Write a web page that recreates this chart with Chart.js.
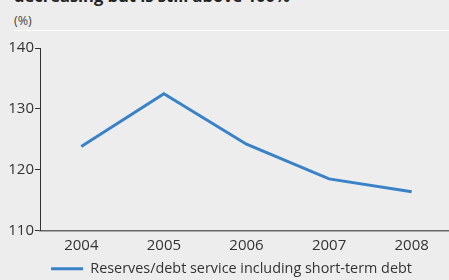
<!DOCTYPE html>
<html lang="en">
<head>
    <meta charset="UTF-8">
    <title>Reserves/debt service</title>
    <script src="https://cdn.jsdelivr.net/npm/chart.js"></script>
    <style>
        html, body { margin: 0; padding: 0; background: #ededed; overflow: hidden; }
        #wrap { position: relative; width: 449px; height: 280px; overflow: hidden; }
        #title { position: absolute; left: 14px; top: -16px; font: bold 16.5px "Open Sans", sans-serif; color: #222; white-space: nowrap; }
        #unit { position: absolute; left: 14px; top: 12px; font: 12.5px "Open Sans", sans-serif; color: #444; }
        #rule { position: absolute; left: 14px; right: 0; top: 30px; height: 1px; background: #fff; }
        #chartBox { position: absolute; left: 0; top: 0; width: 453px; height: 283px; }
    </style>
</head>
<body>
<div id="wrap">
    <div id="title">decreasing but is still above 100%</div>
    <div id="unit">(%)</div>
    <div id="rule"></div>
    <div id="chartBox"><canvas id="chart" width="453" height="283"></canvas></div>
</div>
<script>
    // data
    const years = ["2004", "2005", "2006", "2007", "2008"];
    const reservesDebtService = [123.8, 132.5, 124.2, 118.5, 116.4];
    const yTicks = [110, 120, 130, 140];
    const seriesLabel = "Reserves/debt service including short-term debt";

    const font = { family: "'Open Sans', sans-serif", size: 15 };

    // nudge the legend right and down, as in the original
    const shiftLegend = {
        id: "shiftLegend",
        afterLayout(chart) {
            chart.legend.left += 5;
            chart.legend.right += 5;
            chart.legend.top += 3;
            chart.legend.bottom += 3;
        }
    };

    new Chart(document.getElementById("chart"), {
        type: "line",
        data: {
            labels: years,
            datasets: [{
                label: seriesLabel,
                data: reservesDebtService,
                borderColor: "#3a82c8",
                backgroundColor: "#3a82c8",
                borderWidth: 3,
                pointRadius: 0,
                tension: 0
            }]
        },
        options: {
            responsive: false,
            animation: false,
            layout: { padding: { top: 48, left: 0, right: 0, bottom: 0 } },
            plugins: {
                tooltip: { enabled: false },
                legend: {
                    position: "bottom",
                    labels: {
                        usePointStyle: true,
                        pointStyle: "line",
                        pointStyleWidth: 32,
                        color: "#333",
                        font: { family: font.family, size: 14.4 },
                        padding: 6
                    }
                }
            },
            scales: {
                x: {
                    offset: true,
                    grid: { display: false },
                    border: { color: "#666", width: 1.5 },
                    ticks: { color: "#333", font: font, padding: -2 }
                },
                y: {
                    min: yTicks[0],
                    max: yTicks[yTicks.length - 1],
                    afterBuildTicks: axis => { axis.ticks = yTicks.map(v => ({ value: v })); },
                    grid: { drawOnChartArea: false, drawTicks: true, tickLength: 5, color: "#333" },
                    border: { color: "#333", width: 1 },
                    ticks: { color: "#333", font: font, padding: 1 },
                    afterFit: axis => { axis.width = 40; }
                }
            }
        },
        plugins: [shiftLegend]
    });
</script>
</body>
</html>
